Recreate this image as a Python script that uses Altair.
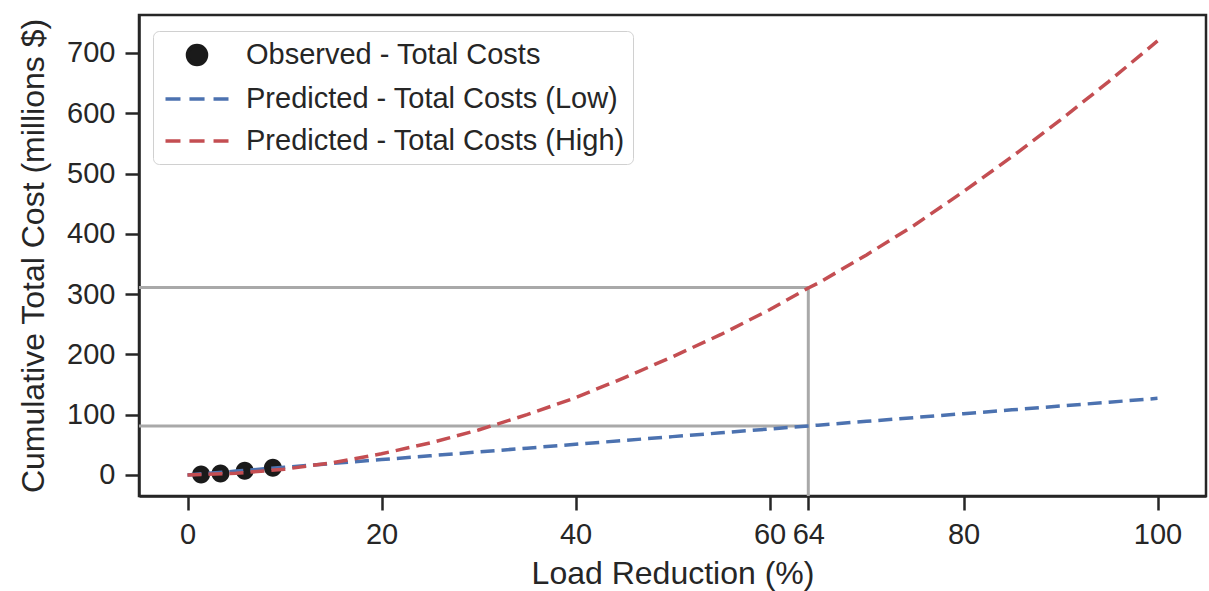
import altair as alt
import pandas as pd

# ---- data ----
SERIES = ["Observed - Total Costs",
          "Predicted - Total Costs (Low)",
          "Predicted - Total Costs (High)"]
COLORS = ["#1a1a1a", "#4c72b0", "#c44e52"]

obs_x = [1.4, 3.4, 5.9, 8.8]
obs_y = [0.5, 2.3, 7.0, 11.8]

pred_x = [0, 5, 10, 15, 20, 25, 30, 35, 40, 45, 50, 55, 60, 64, 65,
          70, 75, 80, 85, 90, 95, 100]
low_y = [0, 6.3, 12.7, 19.0, 25.4, 31.7, 38.1, 44.4, 50.8, 57.1, 63.5,
         69.8, 76.2, 81.3, 82.5, 88.9, 95.2, 101.6, 107.9, 114.3, 120.6, 127]
high_y = [0, 2.6, 9.5, 20.4, 35, 53, 74.5, 100, 128, 161, 196, 233, 274,
          310, 318, 365, 415, 470, 528, 589, 653, 720]

ref_x = 64
ref_low = 81
ref_high = 311

x_domain = [-5, 105]
y_domain = [-35, 763]
x_ticks = [0, 20, 40, 60, 64, 80, 100]
y_ticks = [0, 100, 200, 300, 400, 500, 600, 700]

# ---- tables ----
obs_df = pd.DataFrame({"x": obs_x, "y": obs_y, "series": SERIES[0]})
low_df = pd.DataFrame({"x": pred_x, "y": low_y, "series": SERIES[1]})
high_df = pd.DataFrame({"x": pred_x, "y": high_y, "series": SERIES[2]})
ref_df = pd.DataFrame({
    "x": [x_domain[0], x_domain[0], ref_x],
    "x2": [ref_x, ref_x, ref_x],
    "y": [ref_high, ref_low, y_domain[0]],
    "y2": [ref_high, ref_low, ref_high],
})

FONT = "Liberation Sans"
DARK = "#262626"

circle_path = "M-0.68,0A0.68,0.68,0,1,1,0.68,0A0.68,0.68,0,1,1,-0.68,0Z"
dash_path = "M-2.25,0H-1.18M-0.54,0H0.54M1.18,0H2.25"

legend = alt.Legend(
    title=None, orient="none", legendX=14, legendY=16,
    fillColor="white", strokeColor="#d0d0d0", cornerRadius=6,
    padding=8, labelFont=FONT, labelFontSize=29, labelColor=DARK,
    labelLimit=600, labelOffset=33, symbolOffset=20, rowPadding=11,
    symbolSize=784, symbolStrokeWidth=3.5,
)

x_enc = alt.X("x:Q", scale=alt.Scale(domain=x_domain, nice=False, zero=False),
              axis=alt.Axis(values=x_ticks, title="Load Reduction (%)",
                            labelOverlap=False, titlePadding=9))
y_enc = alt.Y("y:Q", scale=alt.Scale(domain=y_domain, nice=False, zero=False),
              axis=alt.Axis(values=y_ticks,
                            title="Cumulative Total Cost (millions $)",
                            titlePadding=16))
color_enc = alt.Color("series:N",
                      scale=alt.Scale(domain=SERIES, range=COLORS),
                      legend=legend)
shape_enc = alt.Shape("series:N",
                      scale=alt.Scale(domain=SERIES,
                                      range=[circle_path, dash_path, dash_path]),
                      legend=legend)

refs = alt.Chart(ref_df).mark_rule(color="#a9a9a9", strokeWidth=3).encode(
    x=x_enc, x2="x2:Q", y=y_enc, y2="y2:Q")

points = alt.Chart(obs_df).mark_point(filled=True, size=700, opacity=1).encode(
    x=x_enc, y=y_enc, color=color_enc, shape=shape_enc)

low = alt.Chart(low_df).mark_line(strokeWidth=3.5, strokeDash=[14, 7]).encode(
    x=x_enc, y=y_enc, color=color_enc)
high = alt.Chart(high_df).mark_line(strokeWidth=3.5, strokeDash=[14, 7]).encode(
    x=x_enc, y=y_enc, color=color_enc)

chart = alt.layer(refs, points, low, high).properties(
    width=1067, height=481,
    autosize=alt.AutoSizeParams(type="none"),
    padding={"left": 139, "top": 15, "right": 3, "bottom": 95},
    background="white",
).configure_view(
    stroke=DARK, strokeWidth=2.5
).configure_axis(
    grid=False, labelFont=FONT, labelFontSize=29, labelColor=DARK,
    titleFont=FONT, titleFontSize=32, titleFontWeight="normal",
    titleColor=DARK, tickColor=DARK, tickSize=14, tickWidth=2.5,
    domainColor=DARK, domainWidth=2.5, labelPadding=10,
)

chart.save("out.html", embed_options={"renderer": "svg", "actions": False})
